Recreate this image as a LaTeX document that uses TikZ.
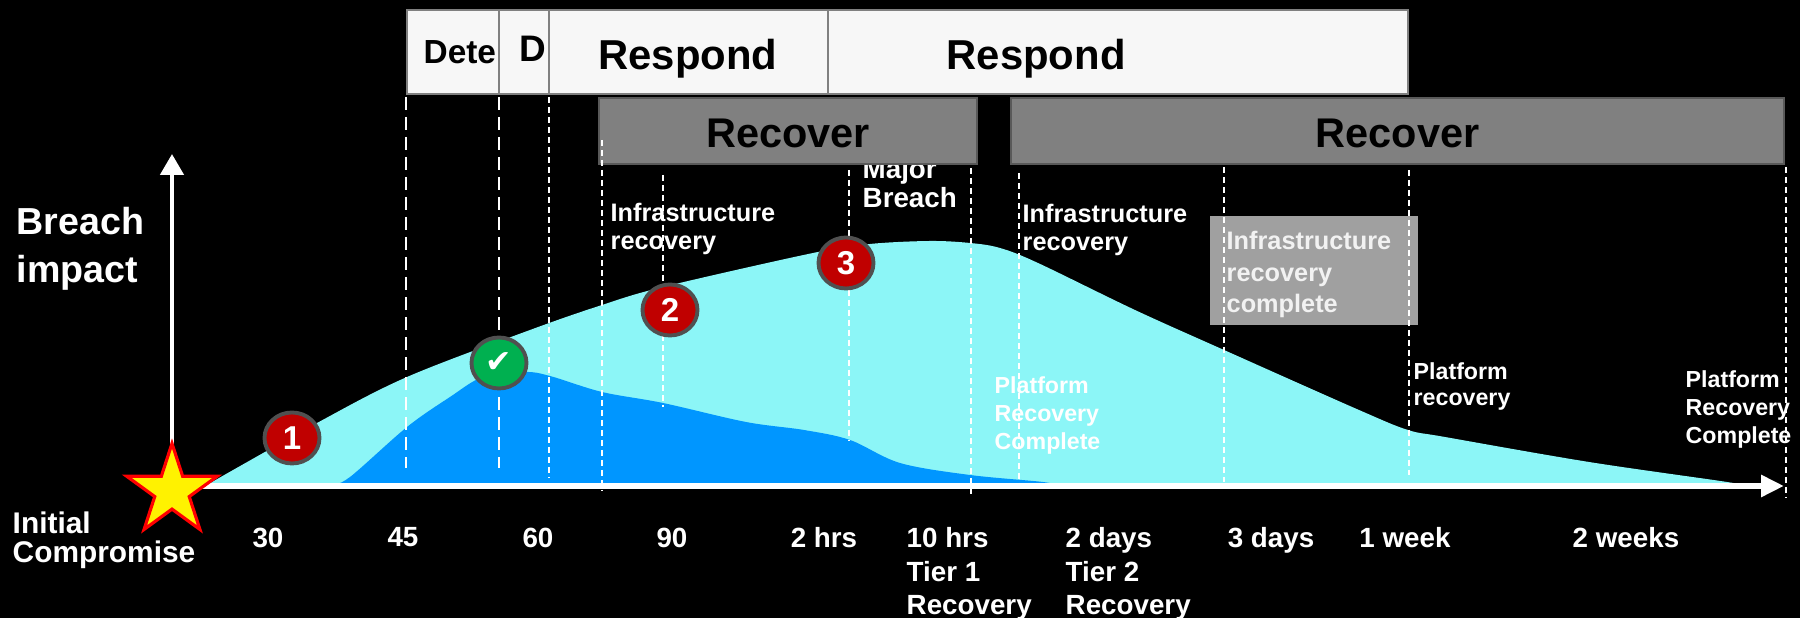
\documentclass[tikz,border=0pt]{standalone}
\usepackage{fontspec}
\setmainfont{Liberation Sans}
\newfontfamily\checkfont{DejaVu Sans}
\usetikzlibrary{arrows.meta,shapes.geometric}

\definecolor{skyfill}{RGB}{140,246,247}
\definecolor{deepfill}{RGB}{0,150,255}
\definecolor{recgray}{RGB}{128,128,128}
\definecolor{donegray}{RGB}{160,160,160}
\definecolor{badgered}{RGB}{192,0,0}
\definecolor{badgegreen}{RGB}{0,176,80}
\definecolor{rimgray}{RGB}{80,80,80}

\begin{document}
\begin{tikzpicture}
        \tikzstyle{phasebox} = [draw=gray, fill=white!97!black, line width=0.5pt]
        \tikzstyle{recoverbox} = [draw=gray!70!black, fill=recgray, line width=0.5pt]
        \tikzstyle{head} = [inner sep=0, anchor=base, font=\fontsize{11.9}{11.9}\selectfont\bfseries]
        \tikzstyle{badge} = [ellipse, draw=rimgray, line width=1.1pt, fill=badgered, minimum width=0.55cm, minimum height=0.51cm, inner sep=0, text=white, font=\fontsize{9.4}{9.4}\selectfont\bfseries]
        \tikzstyle{note} = [text=white, align=left, anchor=north west, inner sep=0, font=\fontsize{7.2}{8.2}\selectfont\bfseries]
        \tikzstyle{ticklabel} = [text=white, align=left, anchor=north, inner sep=0, font=\fontsize{7.9}{9.5}\selectfont\bfseries]
        \tikzstyle{guide} = [white, line width=0.4pt, dash pattern=on 0.06cm off 0.04cm]
        \tikzstyle{longguide} = [white, line width=0.85pt, dash pattern=on 0.13cm off 0.07cm]

        \useasboundingbox (0,0) rectangle (18,6.18);
        \fill[black] (0,0) rectangle (18,6.18);

        % impact areas
        \fill[skyfill] plot[smooth, tension=0.55] coordinates {(2.05,1.32) (3.17,1.95) (4.07,2.41) (5.30,2.88) (6.02,3.13) (6.63,3.31) (8.13,3.65) (8.70,3.74) (9.30,3.77) (9.70,3.75) (10.00,3.70) (10.38,3.55) (11.35,3.08) (12.24,2.68) (13.59,2.08) (14.08,1.88) (14.45,1.81) (15.89,1.56) (17.27,1.36) (17.44,1.32)} -- cycle;
        \fill[deepfill] plot[smooth, tension=0.55] coordinates {(3.30,1.32) (3.50,1.41) (4.07,1.91) (4.50,2.21) (4.83,2.41) (5.25,2.46) (5.50,2.42) (6.02,2.26) (6.63,2.15) (7.46,1.96) (8.04,1.88) (8.50,1.78) (9.00,1.55) (9.70,1.43) (10.43,1.36) (10.60,1.32)} -- cycle;

        \node[note, font=\fontsize{7.9}{8.3}\selectfont\bfseries] (major) at (8.62,4.60) {Major\\Breach};

        \foreach \a/\b in {4.07/4.99, 4.99/5.49, 5.49/8.28, 8.28/14.08}
            \draw[phasebox] (\a,5.24) rectangle (\b,6.08);
        \draw[recoverbox] (5.99,4.54) rectangle (9.77,5.20);
        \draw[recoverbox] (10.11,4.54) rectangle (17.84,5.20);
        \fill[donegray] (12.10,2.93) rectangle (14.18,4.02);

        \node[head, anchor=base west, font=\fontsize{9.5}{9.5}\selectfont\bfseries] (detect) at (4.23,5.54) {Dete};
        \node[head, anchor=base west, font=\fontsize{10.5}{10.5}\selectfont\bfseries] (d) at (5.19,5.56) {D};
        \node[head] (respA) at (6.88,5.48) {Respond};
        \node[head, anchor=base west] (respB) at (9.46,5.48) {Respond};
        \node[head, font=\fontsize{11.8}{11.8}\selectfont\bfseries] (recA) at (7.88,4.70) {Recover};
        \node[head, font=\fontsize{11.8}{11.8}\selectfont\bfseries] (recB) at (13.975,4.70) {Recover};

        \foreach \x in {4.06, 4.99}
            \draw[longguide] (\x,5.21) -- (\x,1.50);
        \foreach \x/\a/\b in {5.49/5.21/1.40, 6.02/4.78/1.28, 6.63/4.43/2.11, 8.49/4.48/1.78, 9.71/4.50/1.21, 10.19/4.45/1.28, 12.24/4.51/1.36, 14.09/4.48/1.43, 17.86/4.51/1.21}
            \draw[guide] (\x,\a) -- (\x,\b);

        \coordinate (O) at (1.72,1.32);
        \coordinate (X) at (17.84,1.32);
        \coordinate (Y) at (1.72,4.64);
        \draw[white, line width=1.3pt, -{Triangle[length=0.21cm, width=0.23cm]}] (O) -- (Y);
        \draw[white, line width=1.9pt, -{Triangle[length=0.23cm, width=0.21cm]}] (O) -- (X);
        \node[star, star points=5, star point ratio=2.618, fill=yellow, draw=red, line width=0.9pt, minimum size=0.95cm, inner sep=0] (start) at (1.72,1.27) {};

        \node[note, font=\fontsize{10.7}{13.4}\selectfont\bfseries] (impact) at (0.16,4.11) {Breach\\impact};
        \node[note, font=\fontsize{8.5}{8.4}\selectfont\bfseries] (initial) at (0.12,1.07) {Initial\\Compromise};

        \node[ticklabel] (t30) at (2.68,0.91) {30};
        \node[ticklabel] (t45) at (4.03,0.91) {45};
        \node[ticklabel] (t60) at (5.38,0.91) {60};
        \node[ticklabel] (t90) at (6.72,0.91) {90};
        \node[ticklabel] (t2h) at (8.24,0.91) {2 hrs};
        \node[ticklabel, anchor=north west] (t10h) at (9.06,0.91) {10 hrs\\Tier 1\\Recovery};
        \node[ticklabel, anchor=north west] (t2d) at (10.65,0.91) {2 days\\Tier 2\\Recovery};
        \node[ticklabel] (t3d) at (12.71,0.91) {3 days};
        \node[ticklabel] (t1w) at (14.05,0.91) {1 week};
        \node[ticklabel] (t2w) at (16.26,0.91) {2 weeks};

        \node[note] (infraA) at (6.10,4.16) {Infrastructure\\recovery};
        \node[note] (infraB) at (10.22,4.15) {Infrastructure\\recovery};
        \node[note, text=white!95!black, font=\fontsize{7.2}{9.1}\selectfont\bfseries] (infraC) at (12.26,3.88) {Infrastructure\\recovery\\complete};
        \node[note, font=\fontsize{6.6}{8}\selectfont\bfseries] (platA) at (9.94,2.42) {Platform\\Recovery\\Complete};
        \node[note, font=\fontsize{6.6}{7.3}\selectfont\bfseries] (platB) at (14.13,2.56) {Platform\\recovery};
        \node[note, font=\fontsize{6.6}{8}\selectfont\bfseries] (platC) at (16.85,2.48) {Platform\\Recovery\\Complete};

        \node[badge] (b1) at (2.92,1.80) {1};
        \node[badge, fill=badgegreen, font=\checkfont\fontsize{9}{9}\selectfont] (ok) at (4.99,2.55) {✔};
        \node[badge] (b2) at (6.70,3.08) {2};
        \node[badge] (b3) at (8.46,3.55) {3};

    \end{tikzpicture}
\end{document}
